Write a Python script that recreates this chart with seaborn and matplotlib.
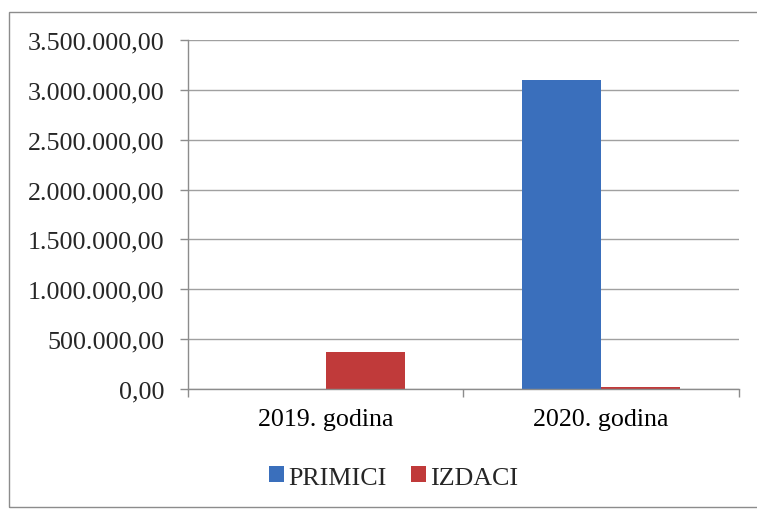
"""Primici i izdaci po godinama – stupčasti grafikon."""

import matplotlib

matplotlib.use("Agg")
import matplotlib.pyplot as plt
import pandas as pd
import seaborn as sns
from matplotlib.patches import Patch, Rectangle
from matplotlib.ticker import FuncFormatter, FixedLocator

years = ["2019. godina", "2020. godina"]
series = ["PRIMICI", "IZDACI"]
primici = [0.0, 3100000.0]
izdaci = [374000.0, 20000.0]
colors = ["#3A6FBC", "#C03A3A"]
y_ticks = [0, 500000, 1000000, 1500000, 2000000, 2500000, 3000000, 3500000]

data = pd.DataFrame(
    {
        "godina": years * 2,
        "serija": [series[0]] * len(years) + [series[1]] * len(years),
        "iznos": primici + izdaci,
    }
)


def hr_format(value, _pos):
    # 1234567.8 -> 1.234.567,80
    text = f"{value:,.2f}"
    return text.replace(",", "X").replace(".", ",").replace("X", ".")


sns.set_theme(style="white")
plt.rcParams["font.family"] = ["Liberation Serif", "DejaVu Serif"]
FONT = 18.7

figure = plt.figure(figsize=(7.57, 5.1), dpi=100)
axis = figure.add_axes([0.2484, 0.2353, 0.976 - 0.2484, 0.9196 - 0.2353])

sns.barplot(
    data=data,
    x="godina",
    y="iznos",
    hue="serija",
    hue_order=series,
    order=years,
    palette=colors,
    width=0.574,
    saturation=1,
    edgecolor="none",
    legend=False,
    ax=axis,
)

axis.set_xlim(-0.5, 1.5)
axis.set_ylim(0, 3500000)
axis.yaxis.set_major_locator(FixedLocator(y_ticks))
axis.yaxis.set_major_formatter(FuncFormatter(hr_format))
axis.grid(axis="y", color="#A0A0A0", linewidth=1)
axis.set_axisbelow(True)
axis.set(xlabel="", ylabel="")

axis.set_xticks(range(len(years)))
axis.set_xticklabels(years)
axis.set_xticks([-0.5, 0.5, 1.5], minor=True)
axis.tick_params(axis="x", which="major", length=0, pad=14, labelsize=FONT, colors="black")
axis.tick_params(axis="x", which="minor", length=5.8, width=1, color="#8C8C8C", bottom=True)
axis.tick_params(axis="y", length=5.8, width=1, color="#8C8C8C", left=True, pad=11.5, labelsize=FONT)

for side in ("top", "right"):
    axis.spines[side].set_visible(False)
for side in ("left", "bottom"):
    axis.spines[side].set_color("#8C8C8C")
    axis.spines[side].set_linewidth(1)

handles = [Patch(facecolor=c, edgecolor="none") for c in colors]
figure.legend(
    handles,
    series,
    loc="center",
    bbox_to_anchor=(0.52, 0.062),
    ncol=2,
    frameon=False,
    handlelength=0.58,
    handleheight=0.58,
    handletextpad=0.15,
    columnspacing=0.95,
    borderpad=0,
    fontsize=FONT,
)

# okvir grafikona
figure.patches.append(
    Rectangle(
        (9 / 757, 2 / 510),
        1.2,
        (508 - 13) / 510,
        transform=figure.transFigure,
        fill=False,
        edgecolor="#8C8C8C",
        linewidth=1,
    )
)

figure.savefig("out.png", dpi=100)
plt.close(figure)
